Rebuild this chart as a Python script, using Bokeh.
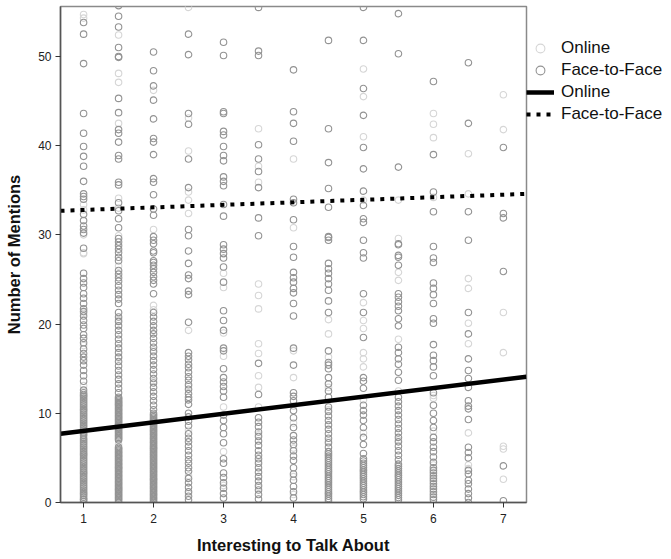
from bokeh.plotting import figure
from bokeh.models import Range1d, FixedTicker, Legend, LegendItem
from bokeh.embed import file_html
from bokeh.resources import INLINE

# ---------------- data ----------------
ratings = [1, 1.5, 2, 2.5, 3, 3.5, 4, 4.5, 5, 5.5, 6, 6.5, 7]

f2f_r1 = [53.8, 52.5, 49.2, 43.6, 41.4, 39.9, 38.8, 37.7, 36.0, 34.6, 34.3, 34.0, 32.3, 31.6, 31.0, 30.6, 30.2, 28.5,
          25.7, 25.1, 24.6, 24.1, 23.4, 22.9, 22.3, 21.7, 21.4, 20.9, 20.4, 19.9, 19.5, 18.8, 18.4, 17.9, 17.2, 16.7,
          16.3, 15.9, 15.4, 14.8, 14.2, 13.6, 12.6, 12.3, 11.9, 11.5, 11.1, 10.7, 10.3, 9.9, 9.5, 9.1, 8.7, 8.3, 7.9,
          7.5, 7.2, 6.8, 6.4, 6.0, 5.6, 5.2, 4.8, 4.4, 4.0, 3.6, 3.2, 2.8, 2.4, 2.0, 1.6, 1.2, 0.8, 0.4, 0.1,
          12.1, 11.7, 11.3, 10.9, 10.5, 10.1, 9.7, 9.3, 8.9, 8.5, 8.1, 7.7, 7.0, 6.6, 6.2, 5.8, 5.4, 5.0, 4.6,
          4.2, 3.8, 3.4, 3.0, 2.6, 2.2, 1.8, 1.4, 1.0, 0.6, 0.3]
online_r1 = [54.7, 54.3, 33.4, 32.8, 30.0, 28.0, 27.9, 21.2, 17.6, 13.1, 12.0, 10.4, 8.1, 5.4, 3.3, 1.0]

f2f_r1_5 = [55.7, 54.5, 53.3, 51.0, 50.0, 49.9, 45.3, 43.7, 41.8, 41.4, 40.4, 38.9, 38.5, 35.9, 35.6, 33.6, 32.7,
            31.8, 30.8, 29.6, 29.2, 28.8, 28.4, 28.0, 27.5, 27.1, 26.0, 25.6, 25.2, 24.8, 24.3, 23.8, 23.3, 22.8,
            22.3, 21.3, 20.8, 20.3, 19.8, 19.3, 18.8, 18.3, 17.8, 17.3, 16.8, 16.3, 15.8, 15.3, 14.8, 14.3, 13.8,
            13.3, 12.8, 12.3, 11.8, 11.5, 11.2, 10.9, 10.6, 10.3, 10.0, 9.7, 9.4, 9.1, 8.8, 8.5, 8.2, 7.9, 7.6, 7.3,
            7.0, 6.2, 5.9, 5.6, 5.3, 5.0, 4.7, 4.4, 4.1, 3.8, 3.5, 3.2, 2.9, 2.6, 2.3, 2.0, 1.7, 1.4, 1.1, 0.8, 0.5,
            0.2, 0.0, 11.65, 11.35, 11.05, 10.75, 10.45, 10.15, 9.85, 9.55, 9.25, 8.95, 8.65, 8.35, 8.05, 7.75,
            7.45, 7.15, 6.05, 5.75, 5.45, 5.15, 4.85, 4.55, 4.25, 3.95, 3.65, 3.35, 3.05, 2.75, 2.45, 2.15, 1.85,
            1.55, 1.25, 0.95, 0.65, 0.35]
online_r1_5 = [52.4, 48.1, 47.1, 42.5, 34.1, 33.0, 29.9, 26.5, 20.5, 16.2, 11.0, 8.6, 6.5, 3.9, 1.5]

f2f_r2 = [50.5, 48.4, 46.7, 45.1, 43.0, 40.8, 40.4, 39.0, 36.3, 35.9, 34.5, 32.9, 32.2, 29.8, 29.4, 29.0, 28.2, 28.0,
          27.1, 26.9, 26.6, 26.2, 25.8, 25.3, 24.9, 24.5, 23.4, 21.3, 20.8, 20.3, 19.8, 19.3, 18.9, 18.4, 17.9, 17.4,
          16.9, 16.4, 15.9, 15.4, 14.9, 14.4, 13.9, 13.4, 12.9, 12.4, 11.9, 11.4, 10.9, 10.4, 10.0, 9.6, 9.3, 9.0,
          8.7, 8.4, 8.1, 7.8, 7.5, 7.2, 6.9, 6.6, 6.3, 6.0, 5.7, 5.4, 5.1, 4.8, 4.5, 4.2, 3.9, 3.6, 3.3, 3.0, 2.7,
          2.4, 2.1, 1.8, 1.5, 1.2, 0.9, 0.6, 0.3, 0.0, 9.8, 9.45, 9.15, 8.85, 8.55, 8.25, 7.95, 7.65, 7.35, 7.05,
          6.75, 6.45, 6.15, 5.85, 5.55, 5.25, 4.95, 4.65, 4.35, 4.05, 3.75, 3.45, 3.15, 2.85, 2.55, 2.25, 1.95,
          1.65, 1.35, 1.05, 0.75, 0.45, 0.15]
online_r2 = [46.2, 30.6, 22.1, 21.6, 17.1, 13.6, 9.8, 6.1, 2.6]

f2f_r2_5 = [52.5, 50.2, 43.6, 42.4, 38.5, 35.3, 30.6, 29.9, 28.2, 26.8, 25.5, 25.1, 23.7, 23.3, 20.2, 16.8, 16.4,
            16.0, 15.5, 15.1, 14.6, 14.1, 13.7, 13.2, 12.7, 12.2, 11.8, 11.5, 11.0, 10.0, 9.6, 9.1, 8.6, 7.7, 7.2,
            6.8, 6.3, 5.8, 5.3, 4.8, 4.4, 3.9, 3.5, 2.7, 2.2, 1.7, 1.2, 0.7, 0.3]
online_r2_5 = [55.5, 43.1, 39.4, 34.8, 33.9, 32.4, 19.3, 13.0, 8.1, 3.0, 1.0]

f2f_r3 = [51.6, 50.1, 43.8, 43.6, 41.6, 41.2, 39.9, 38.9, 38.3, 36.5, 36.0, 35.5, 33.4, 32.1, 28.9, 28.4, 27.9, 27.4,
          26.4, 24.7, 21.5, 20.4, 19.3, 17.3, 17.0, 15.0, 14.0, 13.5, 13.0, 12.5, 11.8, 9.8, 9.2, 8.4, 7.7, 6.7, 4.9,
          4.4, 3.3, 2.8, 2.2, 1.6, 1.0, 0.5]
online_r3 = [25.7, 24.1, 19.0, 16.4, 10.7, 5.7, 1.9]

f2f_r3_5 = [55.5, 50.6, 50.1, 40.1, 38.5, 37.1, 35.3, 31.9, 29.9, 15.6, 12.1, 9.5, 9.0, 8.5, 7.9, 7.4, 6.9, 6.4,
            5.8, 5.3, 4.9, 4.4, 3.9, 3.4, 2.9, 2.4, 1.9, 1.4, 0.9, 0.4]
online_r3_5 = [41.9, 37.7, 35.9, 24.5, 23.2, 21.7, 17.8, 16.7, 14.2, 12.9, 10.7, 7.6, 4.6, 1.7]

f2f_r4 = [48.5, 43.8, 42.5, 40.5, 34.0, 33.6, 31.7, 28.7, 27.5, 25.8, 25.2, 24.7, 24.0, 23.5, 22.3, 20.9, 17.3,
          15.4, 12.3, 11.9, 11.4, 10.3, 9.5, 8.4, 7.5, 7.0, 6.5, 5.8, 5.2, 4.7, 3.9, 3.2, 2.5, 1.8, 1.2, 0.5]
online_r4 = [38.5, 30.8, 17.0, 14.0, 10.8, 8.9, 6.1, 2.9, 0.9]

f2f_r4_5 = [51.8, 41.9, 38.1, 35.2, 33.1, 29.8, 29.7, 29.4, 26.8, 26.2, 25.7, 25.1, 24.5, 23.8, 22.6, 21.3, 17.0,
            15.7, 15.4, 15.0, 14.0, 13.3, 12.5, 11.8, 10.7, 10.2, 9.7, 9.2, 8.7, 8.2, 7.7, 7.2, 6.7, 6.2, 5.7, 5.2,
            4.7, 4.2, 3.7, 3.2, 2.7, 2.2, 1.7, 1.2, 0.7, 0.2, 5.45, 4.95, 4.45, 3.95, 3.45, 2.95, 2.45, 1.95, 1.45,
            0.95, 0.45]
online_r4_5 = [20.5, 18.9, 16.3, 12.9, 10.4, 6.9, 3.5, 1.0]

f2f_r5 = [55.5, 51.8, 46.4, 43.4, 39.8, 37.4, 34.9, 33.3, 31.8, 31.4, 29.4, 28.0, 27.4, 23.4, 21.3, 18.5, 14.0,
          13.6, 12.8, 10.9, 10.3, 9.8, 9.2, 8.4, 7.3, 6.5, 5.5, 4.9, 4.4, 3.9, 3.4, 2.9, 2.4, 1.9, 1.4, 0.9, 0.4,
          4.65, 4.15, 3.65, 3.15, 2.65, 2.15, 1.65, 1.15, 0.65]
online_r5 = [48.6, 45.5, 41.0, 33.9, 22.4, 20.4, 19.5, 16.8, 16.1, 15.2, 11.5, 7.8, 3.6, 1.2]

f2f_r5_5 = [54.8, 50.3, 37.6, 29.0, 28.9, 27.7, 27.5, 26.6, 23.4, 23.0, 22.5, 22.0, 21.5, 20.6, 19.8, 17.4, 16.8,
            16.1, 15.5, 14.6, 13.7, 11.8, 11.3, 10.8, 10.3, 9.8, 9.3, 8.8, 8.3, 7.8, 7.3, 6.8, 6.3, 5.8, 5.3, 4.8,
            4.3, 3.8, 3.3, 2.8, 2.3, 1.8, 1.3, 0.8, 0.3, 4.05, 3.55, 3.05, 2.55, 2.05, 1.55, 1.05, 0.55]
online_r5_5 = [33.9, 29.6, 25.8, 24.9, 18.3, 12.5, 7.0, 3.0]

f2f_r6 = [47.2, 39.0, 34.8, 32.6, 28.7, 27.4, 26.9, 24.6, 24.0, 23.3, 22.3, 20.6, 20.1, 17.7, 16.5, 15.9, 15.2,
          14.2, 12.3, 10.9, 10.0, 9.2, 8.4, 7.3, 6.8, 6.2, 5.7, 5.1, 4.5, 3.9, 3.3, 2.7, 2.1, 1.5, 0.9, 0.3,
          3.6, 3.0, 2.4, 1.8, 1.2, 0.6]
online_r6 = [43.6, 42.4, 40.9, 34.2, 12.0, 11.7, 8.0, 4.2]

f2f_r6_5 = [49.3, 42.5, 32.6, 29.4, 21.3, 18.9, 16.1, 14.8, 13.9, 12.9, 11.4, 10.8, 10.5, 9.3, 6.2, 5.6, 5.0, 3.6,
            3.2, 2.5, 2.1, 1.5, 1.0, 0.5, 0.0]
online_r6_5 = [39.1, 34.6, 25.1, 24.0, 20.1, 17.8, 7.8, 4.2, 3.8]

f2f_r7 = [39.8, 32.4, 31.9, 25.9, 4.1, 0.2]
online_r7 = [45.7, 41.8, 21.3, 16.8, 6.3, 6.0, 2.6]

f2f_columns = [f2f_r1, f2f_r1_5, f2f_r2, f2f_r2_5, f2f_r3, f2f_r3_5, f2f_r4,
               f2f_r4_5, f2f_r5, f2f_r5_5, f2f_r6, f2f_r6_5, f2f_r7]
online_columns = [online_r1, online_r1_5, online_r2, online_r2_5, online_r3, online_r3_5, online_r4,
                  online_r4_5, online_r5, online_r5_5, online_r6, online_r6_5, online_r7]

# fitted linear regression lines (intercept, slope)
online_fit = [7.06, 0.96]
f2f_fit = [32.51, 0.285]

x_limits = [0.67, 7.33]
y_limits = [0, 55.6]
x_ticks = [1, 2, 3, 4, 5, 6, 7]
y_ticks = [0, 10, 20, 30, 40, 50]

legend_labels = ["Online", "Face-to-Face", "Online", "Face-to-Face"]

# ---------------- build ----------------
def flatten(cols):
    xs, ys = [], []
    for r, col in zip(ratings, cols):
        for v in col:
            xs.append(r)
            ys.append(v)
    return xs, ys

ox, oy = flatten(online_columns)
fx, fy = flatten(f2f_columns)

p = figure(frame_width=466, frame_height=496,
           x_range=Range1d(*x_limits), y_range=Range1d(*y_limits),
           output_backend="svg", toolbar_location=None,
           min_border_left=60, min_border_right=140, min_border_top=6, min_border_bottom=57)

r_on = p.scatter(ox, oy, marker="circle", size=6.5, fill_color=None,
                 line_color="#d6d6d6", line_width=1.1)
r_ff = p.scatter(fx, fy, marker="circle", size=6.5, fill_color=None,
                 line_color="#939393", line_width=1.1)

lx = x_limits
l_on = p.line(lx, [online_fit[0] + online_fit[1] * x for x in lx],
              line_color="black", line_width=4.5)
l_ff = p.line(lx, [f2f_fit[0] + f2f_fit[1] * x for x in lx],
              line_color="black", line_width=4, line_dash="4 6")

legend = Legend(items=[LegendItem(label=legend_labels[0], renderers=[r_on]),
                       LegendItem(label=legend_labels[1], renderers=[r_ff]),
                       LegendItem(label=legend_labels[2], renderers=[l_on]),
                       LegendItem(label=legend_labels[3], renderers=[l_ff])],
                location="top_left")
legend.title = " "
legend.title_text_font_size = "18px"
legend.title_standoff = 10
legend.label_text_font = "Liberation Sans"
legend.label_text_font_size = "17px"
legend.label_text_color = "#111111"
legend.glyph_width = 28
legend.glyph_height = 22
legend.label_height = 22
legend.label_standoff = 7
legend.spacing = 0
legend.padding = 4
legend.margin = 0
legend.border_line_color = None
legend.background_fill_alpha = 0
p.add_layout(legend, "right")

p.xgrid.visible = False
p.ygrid.visible = False
p.outline_line_color = "#8a8a8a"
p.outline_line_width = 1.5

p.xaxis.ticker = FixedTicker(ticks=x_ticks)
p.yaxis.ticker = FixedTicker(ticks=y_ticks)
for ax in (p.xaxis, p.yaxis):
    ax.minor_tick_line_color = None
    ax.major_tick_in = 0
    ax.major_tick_out = 5
    ax.major_tick_line_color = "#333333"
    ax.axis_line_color = "#555555"
    ax.axis_line_width = 1.5
    ax.major_label_text_font = "Liberation Sans"
    ax.major_label_text_font_size = "12px"
    ax.major_label_text_color = "#222222"
    ax.axis_label_text_font = "Liberation Sans"
    ax.axis_label_text_font_size = "16.5px"
    ax.axis_label_text_font_style = "bold"
    ax.axis_label_text_color = "#111111"

p.xaxis.axis_label = "Interesting to Talk About"
p.yaxis.axis_label = "Number of Mentions"
p.xaxis.major_label_standoff = 6
p.xaxis.axis_label_standoff = 10
p.yaxis.major_label_standoff = 4
p.yaxis.axis_label_standoff = 12

open("out.html", "w").write(file_html(p, INLINE))
